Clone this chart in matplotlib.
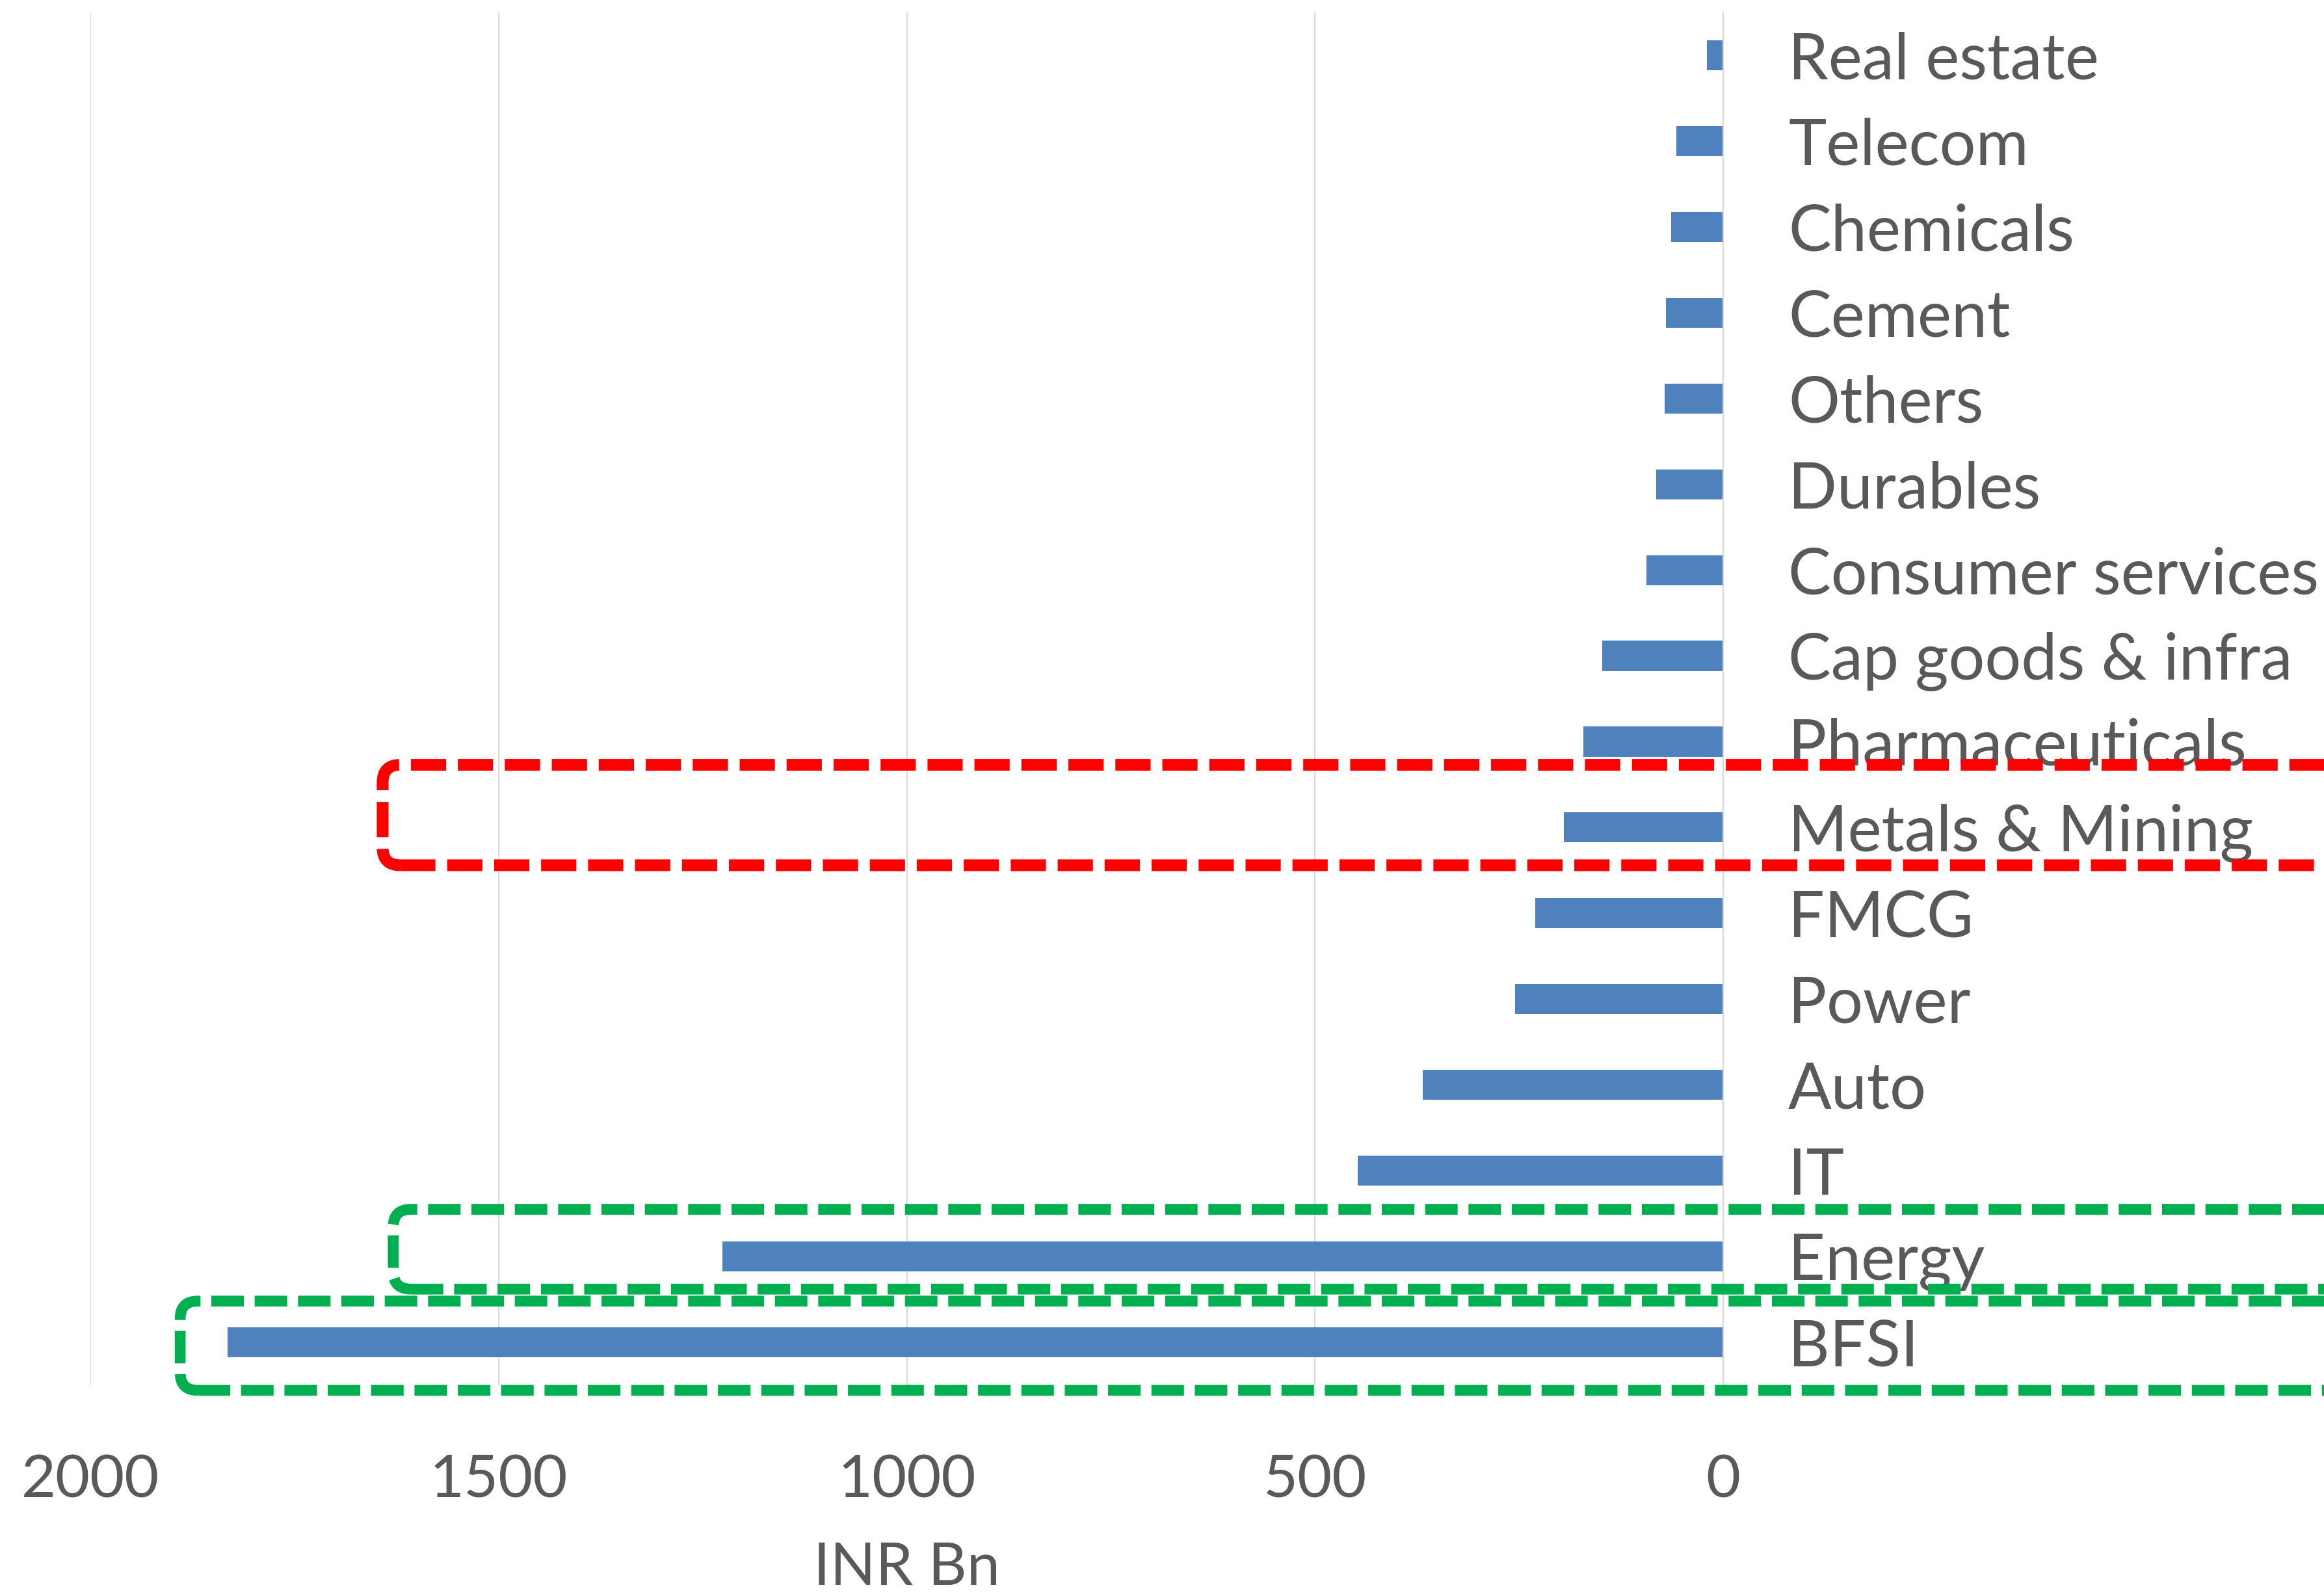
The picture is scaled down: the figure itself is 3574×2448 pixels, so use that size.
import matplotlib
matplotlib.use("Agg")
import matplotlib.pyplot as plt
import matplotlib.transforms as mtransforms
from matplotlib.patches import FancyBboxPatch

# --------------------------------------------------------------------------- #
# Data (bottom to top)
# --------------------------------------------------------------------------- #
sectors = [
    "BFSI", "Energy", "IT", "Auto", "Power", "FMCG", "Metals & Mining",
    "Pharmaceuticals", "Cap goods & infra", "Consumer services", "Durables",
    "Others", "Cement", "Chemicals", "Telecom", "Real estate",
]
values = [1832, 1226, 448, 368, 255, 230, 195, 171, 148, 94, 82, 72, 70, 64, 57, 20]
xticks = [2000, 1500, 1000, 500, 0]
xlabel = "INR Bn"

# highlight boxes: (sector, colour)
highlights = [
    ("Metals & Mining", "#ff0000"),
    ("Energy", "#00b050"),
    ("BFSI", "#00b050"),
]

W, H, DPI = 3574, 2448, 100
TEXT = "#595959"
BAR = "#4f81bd"
GRID = "#d9d9d9"

plt.rcParams["font.family"] = ["Lato", "DejaVu Sans"]

fig = plt.figure(figsize=(W / DPI, H / DPI), dpi=DPI)
fig.patch.set_facecolor("white")
ax = fig.add_axes([139 / W, (H - 2130) / H, (2650 - 139) / W, (2130 - 19) / H])

ypos = list(range(len(sectors)))
ax.barh(ypos, values, height=0.35, color=BAR, zorder=2)

ax.set_xlim(2000, 0)
ax.set_ylim(-0.5, len(sectors) - 0.5)
ax.set_xticks(xticks)
ax.set_xticklabels([str(t) for t in xticks], fontsize=66, color=TEXT)
ax.set_yticks(ypos)
ax.set_yticklabels(sectors, fontsize=71, color=TEXT)
ax.yaxis.tick_right()
ax.tick_params(axis="y", length=0, pad=72)
ax.tick_params(axis="x", length=0, pad=76)

ax.grid(axis="x", color=GRID, linewidth=1.5, zorder=0)
for side in ("top", "bottom", "left"):
    ax.spines[side].set_visible(False)
ax.spines["right"].set_color(GRID)
ax.spines["right"].set_linewidth(1.5)

ax.set_xlabel(xlabel, fontsize=66, color=TEXT)
ax.xaxis.set_label_coords(0.5, -0.1137)

# --------------------------------------------------------------------------- #
# Dashed rounded highlight boxes (drawn in pixel space so corners stay round)
# --------------------------------------------------------------------------- #
box_extent = {
    # sector: (left value, bottom offset, top offset) in data units
    "Metals & Mining": (1642, -0.44, 0.73),
    "Energy": (1629, -0.38, 0.55),
    "BFSI": (1890, -0.56, 0.48),
}
pix = mtransforms.IdentityTransform()
for name, colour in highlights:
    i = sectors.index(name)
    left, lo, hi = box_extent[name]
    (x0, y0) = ax.transData.transform((left, i + lo))
    (_, y1) = ax.transData.transform((left, i + hi))
    x1 = W + 200  # runs off the right edge of the picture
    lw = 13 if colour == "#ff0000" else 12
    box = FancyBboxPatch(
        (x0, y0), x1 - x0, y1 - y0,
        boxstyle="round,pad=0,rounding_size=27",
        transform=pix, fill=False, edgecolor=colour,
        linewidth=lw, linestyle=(0, (3, 1)), zorder=5,
    )
    fig.add_artist(box)

fig.savefig("out.png", dpi=DPI, facecolor="white")
